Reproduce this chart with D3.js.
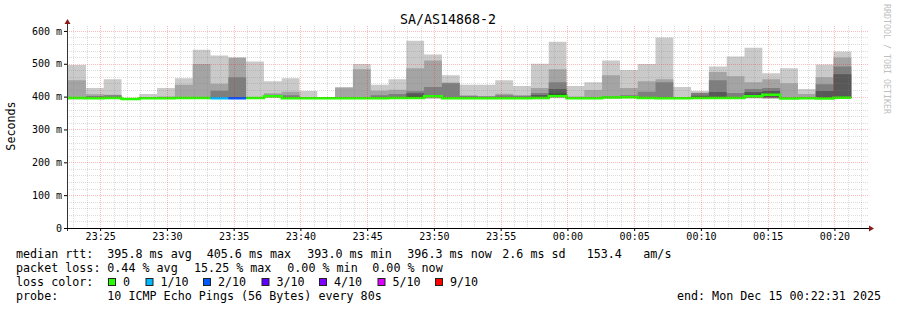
<!DOCTYPE html>
<html>
<head>
<meta charset="utf-8">
<script src="https://cdn.jsdelivr.net/npm/d3@7"></script>
<style>
  html, body { margin: 0; padding: 0; background: #fff; }
  svg { display: block; }
  text { font-family: "DejaVu Sans Mono", monospace; fill: #000; }
</style>
</head>
<body>
<div id="chart"></div>
<script>
// time window of the graph and the sample step
const windowStart = '2025-12-14T23:22:31Z';
const windowEnd = '2025-12-15T00:22:31Z';
const firstSample = '2025-12-14T23:22:36Z';
const stepSeconds = 80;

// median rtt per 80s step (ms)
const medians = [396, 395, 396, 393, 395, 395, 396, 396, 395, 395, 396, 401, 395, 395, 395, 395,
  395, 395, 396, 396, 401, 395, 395, 395, 395, 395, 396, 402, 395, 395, 397, 398,
  396, 395, 395, 396, 396, 396, 401, 405.6, 394, 395, 394, 396.3];

// lost pings per step (out of 10)
const losses = [0, 0, 0, 0, 0, 0, 0, 0, 1, 2, 0, 0, 0, 0, 0, 0, 0, 0, 0, 0, 0, 0,
  0, 0, 0, 0, 0, 0, 0, 0, 0, 0, 0, 0, 0, 0, 0, 0, 0, 0, 0, 0, 0, 0];

// sorted ping times per step (ms), smallest first
const pings = [
  [391, 394, 395, 395.5, 396, 396, 396.5, 397, 450, 496],
  [393, 394, 394.5, 395, 395, 395.5, 396, 402, 407, 426],
  [394, 395, 395, 395.5, 396, 396, 397, 404, 406, 453],
  [391, 392, 392, 392.5, 393, 393, 393.5, 394, 394.5, 395],
  [393, 394, 394, 394.5, 395, 395, 395.5, 396, 398, 408],
  [393, 394, 394, 394.5, 395, 395, 395.5, 397, 400, 426],
  [394, 395, 395, 395.5, 396, 396, 397, 399, 436, 456],
  [394, 395, 395, 395.5, 396, 396.5, 397, 399, 499, 543],
  [393, 394, 394.5, 395, 395, 395.5, 397, 418, 439, 525],
  [393, 394, 394.5, 395, 395, 395.5, 397, 459, 519, null],
  [394, 395, 395, 395.5, 396, 396, 396.5, 397, 399, 507],
  [396, 398, 399, 400, 401, 401.5, 403, 406, 410, 447],
  [393, 394, 394, 394.5, 395, 395.5, 396, 404, 415, 456],
  [393, 394, 394, 394.5, 395, 395, 395.5, 396, 399, 417],
  [393, 394, 394, 394.5, 395, 395, 395.5, 396, 397, 399],
  [393, 394, 394, 394.5, 395, 395, 395.5, 396, 427, 429],
  [393, 394, 394, 394.5, 395, 395, 396, 398, 483, 499],
  [393, 394, 394, 394.5, 395, 395.5, 396, 404, 418, 436],
  [394, 395, 395, 395.5, 396, 396.5, 398, 408, 421, 453],
  [394, 395, 395, 395.5, 396, 400, 410, 416, 486, 570],
  [393, 396, 398, 400, 401, 401.5, 404, 429, 510, 528],
  [393, 394, 394, 394.5, 395, 395.5, 397, 441, 443, 465],
  [393, 394, 394, 394.5, 395, 395.5, 396, 402, 404, 436],
  [393, 394, 394, 394.5, 395, 395, 395.5, 400, 402, 436],
  [393, 394, 394, 394.5, 395, 395.5, 397, 404, 409, 450],
  [393, 394, 394, 394.5, 395, 395, 396, 402, 405, 432],
  [392, 394, 395, 395.5, 396, 396.5, 405, 411, 426, 500],
  [395, 397, 399, 401, 402, 409, 423, 444, 483, 567],
  [393, 394, 394, 394.5, 395, 395, 395.5, 397, 400, 432],
  [393, 394, 394, 394.5, 395, 395, 395.5, 397, 420, 444],
  [394, 395, 396, 396.5, 397, 397.5, 399, 402, 465, 510],
  [395, 396, 397, 397.5, 398, 398.5, 400, 404, 426, 481],
  [394, 395, 395, 395.5, 396, 396.5, 399, 415, 447, 499],
  [393, 394, 394, 394.5, 395, 395.5, 398, 444, 453, 580],
  [393, 394, 394, 394.5, 395, 395, 395.5, 396, 399, 429],
  [394, 395, 395, 395.5, 396, 396.5, 403, 411, 412, 417],
  [394, 395, 395, 395.5, 396, 397, 414, 450, 475, 492],
  [394, 395, 395, 395.5, 396, 396.5, 399, 411, 462, 522],
  [394, 396, 397, 399, 401, 406, 414, 423, 444, 549],
  [393, 395, 396, 398, 405, 407, 417, 426, 453, 471],
  [392, 393, 393, 393.5, 394, 394, 394.5, 395, 441, 486],
  [393, 394, 394, 394.5, 395, 395, 395.5, 397, 408, 423],
  [392, 393, 393, 393.5, 394, 394.5, 417, 438, 459, 498],
  [394, 395, 395, 395.5, 396, 397, 468, 492, 519, 537]
];

const lossThresholds = [0, 1, 2, 3, 4, 5, 9];
const lossLabels = ['0', '1/10', '2/10', '3/10', '4/10', '5/10', '9/10'];
const lossColors = ['#26ff00', '#00b8ff', '#0059ff', '#5e00ff', '#7e00ff', '#dd00ff', '#ff0000'];

const yTicks = [0, 100, 200, 300, 400, 500, 600];
const yMax = 615;

const title = 'SA/AS14868-2';
const yTitle = 'Seconds';
// legend rows: pieces of text with their left edge
const rttRow = [['median rtt:', 16], ['395.8 ms avg', 107.3], ['405.6 ms max', 206.7],
  ['393.0 ms min', 307.3], ['396.3 ms now', 407.3], ['2.6 ms sd', 502.3], ['153.4', 586.7], ['am/s', 643.3]];
const lossRow = [['packet loss:', 16], ['0.44 % avg', 107.3], ['15.25 % max', 194],
  ['0.00 % min', 287.3], ['0.00 % now', 372.3]];
const colorRow = [['loss color:', 16]];
const probeRow = [['probe:', 16], ['10 ICMP Echo Pings (56 Bytes) every 80s', 107.3]];
const endLabel = 'end: Mon Dec 15 00:22:31 2025';
const watermark = 'RRDTOOL / TOBI OETIKER';

const width = 897;
const height = 310;
const plotLeft = 67, plotRight = 868, plotTop = 26, plotBottom = 228;

const svg = d3.select('#chart')
              .append('svg')
              .attr('width', width)
              .attr('height', height);

const x = d3.scaleUtc()
            .domain([new Date(windowStart), new Date(windowEnd)])
            .range([plotLeft, plotRight]);

const y = d3.scaleLinear()
            .domain([0, yMax])
            .range([plotBottom, plotTop]);

const t0 = new Date(firstSample).getTime();

// each step becomes two points so areas/lines are flat per step
const steps = medians.map((m, i) => {
  const start = i === 0 ? x.domain()[0] : new Date(t0 + i * stepSeconds * 1000);
  const end = new Date(t0 + (i + 1) * stepSeconds * 1000);
  let c = 0;
  lossThresholds.forEach((th, j) => { if (losses[i] >= th) c = j; });
  return { start, end, median: m, pings: pings[i], colorIndex: c };
});
const pts = [];
steps.forEach(s => {
  pts.push({ t: s.start, s });
  pts.push({ t: s.end, s });
});

svg.append('clipPath').attr('id', 'plot')
   .append('rect').attr('x', plotLeft).attr('y', plotTop)
   .attr('width', plotRight - plotLeft).attr('height', plotBottom - plotTop);

const plot = svg.append('g').attr('clip-path', 'url(#plot)');

// smoke: layer i spans ping i .. ping (11-i)
const half = 5;
for (let i = 1; i <= half; i++) {
  const g = Math.floor(190 / half * (half - i)) + 50;
  const area = d3.area()
                 .defined(d => d.s.pings[i - 1] != null && d.s.pings[10 - i] != null)
                 .x(d => x(d.t))
                 .y0(d => y(d.s.pings[i - 1]))
                 .y1(d => y(d.s.pings[10 - i]));
  plot.append('path')
      .datum(pts)
      .attr('fill', d3.rgb(g, g, g))
      .attr('d', area);
}

// grid on top of the smoke
const grid = svg.append('g').attr('shape-rendering', 'crispEdges');
const minuteTicks = d3.utcMinute.range(x.domain()[0], x.domain()[1]);
const majorTicks = d3.utcMinute.every(5).range(x.domain()[0], x.domain()[1]);
const isMajor = d => d.getUTCMinutes() % 5 === 0;
const minorColor = 'rgba(128,128,128,0.28)';
const majorColor = 'rgba(255,0,0,0.26)';

grid.selectAll('.vminor')
    .data(minuteTicks.filter(d => !isMajor(d)))
    .join('line')
    .attr('x1', d => Math.round(x(d)) + 0.5).attr('x2', d => Math.round(x(d)) + 0.5)
    .attr('y1', plotTop).attr('y2', plotBottom)
    .attr('stroke', minorColor)
    .attr('stroke-dasharray', '1,1');

const yMinor = d3.range(20, yMax, 20).filter(v => v % 100 !== 0);
grid.selectAll('.hminor')
    .data(yMinor)
    .join('line')
    .attr('x1', plotLeft).attr('x2', plotRight)
    .attr('y1', d => Math.round(y(d)) + 0.5).attr('y2', d => Math.round(y(d)) + 0.5)
    .attr('stroke', minorColor)
    .attr('stroke-dasharray', '1,1');

grid.selectAll('.vmajor')
    .data(majorTicks)
    .join('line')
    .attr('x1', d => Math.round(x(d)) + 0.5).attr('x2', d => Math.round(x(d)) + 0.5)
    .attr('y1', plotTop).attr('y2', plotBottom)
    .attr('stroke', majorColor)
    .attr('stroke-dasharray', '1,1');

grid.selectAll('.hmajor')
    .data(yTicks.filter(v => v > 0))
    .join('line')
    .attr('x1', plotLeft).attr('x2', plotRight)
    .attr('y1', d => Math.round(y(d)) + 0.5).attr('y2', d => Math.round(y(d)) + 0.5)
    .attr('stroke', majorColor)
    .attr('stroke-dasharray', '1,1');

// median line, one path per loss colour
lossColors.forEach((col, ci) => {
  if (!steps.some(s => s.colorIndex === ci)) return;
  const line = d3.line()
                 .defined(d => d.s.colorIndex === ci)
                 .x(d => x(d.t))
                 .y(d => y(d.s.median));
  plot.append('path')
      .datum(pts)
      .attr('fill', 'none')
      .attr('stroke', col)
      .attr('stroke-width', 2.5)
      .attr('d', line);
});

// axes
const xAxis = d3.axisBottom(x)
                .ticks(d3.utcMinute.every(5))
                .tickFormat(d3.utcFormat('%H:%M'))
                .tickSize(3)
                .tickPadding(2);
const gx = svg.append('g')
              .attr('transform', 'translate(0,' + plotBottom + ')')
              .call(xAxis);
gx.select('.domain').remove();
gx.selectAll('text').attr('font-size', '10px').attr('font-family', 'DejaVu Sans Mono').attr('dy', '0.7em');
gx.selectAll('line').attr('stroke', '#000');

const yAxis = d3.axisLeft(y)
                .tickValues(yTicks)
                .tickFormat(d => d === 0 ? '0' : d + ' m')
                .tickSize(3)
                .tickPadding(2);
const gy = svg.append('g')
              .attr('transform', 'translate(' + plotLeft + ',0)')
              .call(yAxis);
gy.select('.domain').remove();
gy.selectAll('text').attr('font-size', '10px').attr('font-family', 'DejaVu Sans Mono');
gy.selectAll('line').attr('stroke', '#000');

svg.append('line')
   .attr('x1', plotLeft + 0.5).attr('x2', plotLeft + 0.5)
   .attr('y1', plotBottom + 3).attr('y2', plotTop - 3)
   .attr('stroke', '#333');
svg.append('line')
   .attr('x1', plotLeft - 3).attr('x2', plotRight + 2)
   .attr('y1', plotBottom + 0.5).attr('y2', plotBottom + 0.5)
   .attr('stroke', '#000');
svg.append('path')
   .attr('d', `M${plotLeft - 2.5},${plotTop - 2} L${plotLeft + 3.5},${plotTop - 2} L${plotLeft + 0.5},${plotTop - 7} Z`)
   .attr('fill', '#8b1a1a');
svg.append('path')
   .attr('d', `M${plotRight + 1},${plotBottom - 2.5} L${plotRight + 1},${plotBottom + 3.5} L${plotRight + 6},${plotBottom + 0.5} Z`)
   .attr('fill', '#8b1a1a');

// titles
svg.append('text')
   .attr('x', 448).attr('y', 24)
   .attr('text-anchor', 'middle')
   .attr('font-size', '13.3px')
   .text(title);

svg.append('text')
   .attr('transform', 'translate(15,126) rotate(-90)')
   .attr('text-anchor', 'middle')
   .attr('font-size', '11.7px')
   .text(yTitle);

svg.append('text')
   .attr('transform', 'translate(884,59) rotate(90)')
   .attr('text-anchor', 'middle')
   .attr('font-size', '8.3px')
   .style('fill', '#c0c0c0')
   .text(watermark);

// legend rows
const rows = [rttRow, lossRow, colorRow, probeRow];
const rowY = [258, 272, 286, 300];
rows.forEach((row, i) => {
  row.forEach(([txt, tx]) => {
    svg.append('text')
       .attr('x', tx).attr('y', rowY[i])
       .attr('font-size', '11.7px')
       .text(txt);
  });
});

const boxX = [108, 145.5, 203, 261.5, 319, 377.5, 435];
lossLabels.forEach((lab, i) => {
  svg.append('rect')
     .attr('x', boxX[i] + 0.5).attr('y', 278.5)
     .attr('width', 7).attr('height', 7)
     .attr('fill', lossColors[i])
     .attr('stroke', '#222');
  svg.append('text')
     .attr('x', boxX[i] + 15).attr('y', 286)
     .attr('font-size', '11.7px')
     .text(lab);
});

svg.append('text')
   .attr('x', 881).attr('y', 300)
   .attr('text-anchor', 'end')
   .attr('font-size', '11.7px')
   .text(endLabel);
</script>
</body>
</html>
